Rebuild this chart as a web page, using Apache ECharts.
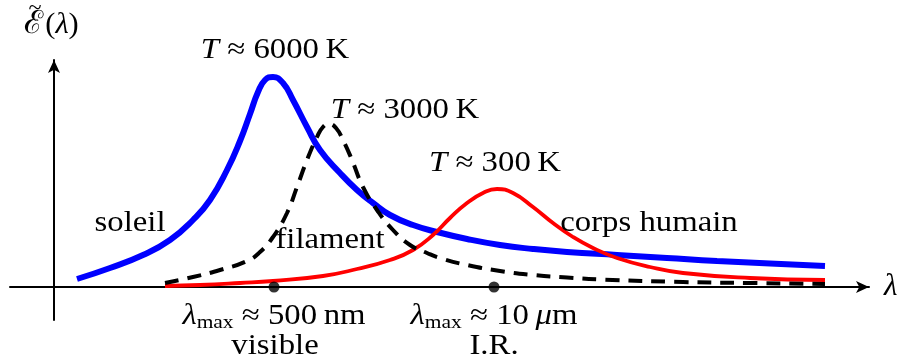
<!DOCTYPE html>
<html>
<head>
<meta charset="utf-8">
<script src="https://cdn.jsdelivr.net/npm/echarts@6/dist/echarts.min.js"></script>
<style>
  html, body { margin: 0; padding: 0; background: #ffffff; }
  #chart { width: 897px; height: 360px; }
</style>
</head>
<body>
<div id="chart"></div>
<script>
// Spectral energy curves: wavelength position (axis units) and relative intensity.
const sunLambda = [2.3, 5.6, 8.9, 11.6, 13.9, 15.6, 17.3, 18.6, 19.6, 20.4, 21.1, 21.9, 22.9, 23.9, 25.3, 26.6, 28.6, 30.3, 31.9, 33.6, 35.9, 38.3, 41.3, 44.6, 47.9, 51.3, 56.3, 61.3, 66.3, 71.6, 77.1];
const sunValues = [0.8, 1.9, 3.2, 4.7, 6.7, 8.7, 11.7, 14.6, 17.3, 19.5, 20.7, 21.0, 20.4, 18.7, 16.0, 13.7, 11.4, 9.7, 8.4, 7.2, 6.2, 5.5, 4.8, 4.2, 3.8, 3.5, 3.2, 2.9, 2.6, 2.35, 2.1];

const filamentLambda = [11.1, 13.9, 16.6, 19.3, 20.6, 21.9, 23.3, 24.3, 25.3, 26.3, 26.9, 27.5, 28.2, 28.9, 29.8, 30.9, 32.3, 33.9, 35.6, 37.3, 38.6, 41.3, 44.6, 47.9, 51.3, 54.6, 62.9, 69.6, 77.1];
const filamentValues = [0.4, 1.0, 1.7, 2.6, 3.5, 5.0, 7.4, 10.0, 12.7, 15.0, 16.0, 16.3, 15.9, 14.7, 12.7, 10.0, 7.7, 5.7, 4.2, 3.4, 2.9, 2.2, 1.6, 1.2, 0.95, 0.75, 0.5, 0.4, 0.3];

const bodyLambda = [11.1, 14.6, 18.6, 21.9, 26.9, 30.3, 33.6, 35.9, 37.9, 39.6, 41.3, 42.9, 44.3, 45.9, 47.9, 49.9, 51.9, 53.9, 56.3, 59.6, 62.9, 69.6, 77.1];
const bodyValues = [0.1, 0.2, 0.4, 0.6, 1.1, 1.8, 2.7, 3.7, 5.2, 6.9, 8.4, 9.4, 9.8, 9.4, 8.0, 6.4, 5.0, 3.9, 2.9, 2.0, 1.4, 0.9, 0.7];

// Wavelengths of maximum emission marked on the axis
const peakLambda = [22.0, 44.0];

// Annotation texts
const curveLabels = ['{i|T} ≈ 6000\u2009K', '{i|T} ≈ 3000\u2009K', '{i|T} ≈ 300\u2009K'];
const sourceLabels = ['soleil', 'filament', 'corps humain'];
const peakLabels = ['{i|λ}{s|max} ≈ 500\u2009nm', '{i|λ}{s|max} ≈ 10\u2009{i|μ}m'];
const domainLabels = ['visible', 'I.R.'];

const zip = (xs, ys) => xs.map((x, k) => [x, ys[k]]);

const chart = echarts.init(document.getElementById('chart'), null, { renderer: 'canvas' });

const axisLine = {
  show: true,
  onZero: true,
  symbol: ['none', 'arrow'],
  symbolSize: [9, 13],
  lineStyle: { color: '#000', width: 2 }
};

const curve = (name, xs, ys, lineStyle, z) => ({
  name: name, type: 'line', data: zip(xs, ys),
  smooth: 0.5, showSymbol: false,
  lineStyle: lineStyle, z: z
});

chart.setOption({
  animation: false,
  backgroundColor: '#ffffff',
  grid: { left: 10, right: 28, top: 60, bottom: 40, containLabel: false },
  xAxis: {
    type: 'value', min: -4.4, max: 81.5,
    axisLine: axisLine, axisTick: { show: false }, axisLabel: { show: false }, splitLine: { show: false }
  },
  yAxis: {
    type: 'value', min: -3.3, max: 22.7,
    axisLine: axisLine, axisTick: { show: false }, axisLabel: { show: false }, splitLine: { show: false }
  },
  series: [
    curve('soleil', sunLambda, sunValues, { color: '#0000ff', width: 6 }, 2),
    curve('corps humain', bodyLambda, bodyValues, { color: '#ff0000', width: 3.8 }, 3),
    curve('filament', filamentLambda, filamentValues, { color: '#000000', width: 4, type: [14, 9] }, 4),
    {
      name: 'max', type: 'scatter', data: peakLambda.map(x => [x, 0]),
      symbol: 'circle', symbolSize: 11, itemStyle: { color: '#000' }, z: 5
    }
  ]
});

const FONT = '"Liberation Serif", "DejaVu Serif", serif';
const SIZE = 29;
const rich = {
  i: { fontStyle: 'italic', fontSize: SIZE, fontFamily: FONT },
  s: { fontSize: 19, fontFamily: FONT, verticalAlign: 'bottom', padding: [14, 0, 0, 0] }
};

function textAt(coord, str, opts) {
  const p = chart.convertToPixel({ gridIndex: 0 }, coord);
  const o = opts || {};
  return {
    type: 'text', x: p[0], y: p[1], silent: true, z: 10,
    scaleX: o.scaleX || 1.13,
    style: {
      text: str, fill: '#000', fontSize: o.size || SIZE, fontFamily: FONT,
      fontStyle: o.italic ? 'italic' : 'normal',
      align: o.align || 'center', verticalAlign: 'middle', rich: rich
    }
  };
}

const graphics = [
  // energy density symbol with its tilde, then the argument
  textAt([-2.1, 26.2], 'ℰ', { size: 32, scaleX: 1 }),
  textAt([-1.9, 27.9], '~', { size: 22, scaleX: 1.1 }),
  textAt([0.8, 26.2], '({i|λ})', { scaleX: 1.05 }),
  textAt([22.1, 23.7], curveLabels[0]),
  textAt([35.1, 17.7], curveLabels[1]),
  textAt([44.1, 12.4], curveLabels[2]),
  textAt([7.6, 6.4], sourceLabels[0]),
  textAt([27.6, 4.7], sourceLabels[1]),
  textAt([59.5, 6.4], sourceLabels[2]),
  textAt([22.0, -2.9], peakLabels[0]),
  textAt([44.0, -2.9], peakLabels[1]),
  textAt([22.1, -5.9], domainLabels[0]),
  textAt([44.0, -5.9], domainLabels[1])
];
// axis name at the end of the wavelength axis
const endPx = chart.convertToPixel({ gridIndex: 0 }, [81.5, 0]);
graphics.push({
  type: 'text', x: endPx[0] + 15, y: endPx[1], silent: true,
  style: { text: 'λ', fill: '#000', fontSize: 31, fontStyle: 'italic', fontFamily: FONT, align: 'left', verticalAlign: 'middle' }
});

chart.setOption({ graphic: graphics });
</script>
</body>
</html>
